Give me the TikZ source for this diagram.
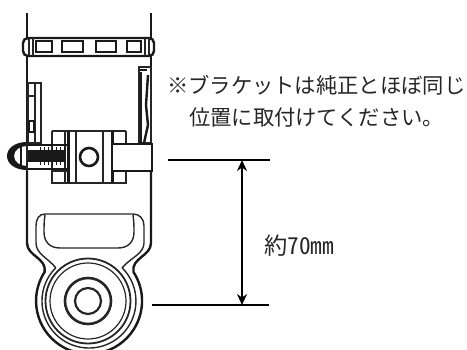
\documentclass[tikz,border=0pt]{standalone}
\usepackage{fontspec}
\usetikzlibrary{arrows.meta}
\newfontfamily\jpfont[RawFeature=+hwid]{Noto Sans CJK JP}
\newfontfamily\jpfull{Noto Sans CJK JP}
\tikzset{
	part/.style={line width=1.4pt,black!85},
	heavy/.style={line width=2.4pt,black!90},
	dimline/.style={line width=2pt},
	note/.style={font=\jpfull\fontsize{21.3pt}{24pt}\selectfont,anchor=west,inner sep=0pt,text=black!85},
}
\begin{document}
\begin{tikzpicture}[>={Stealth[length=11pt,width=10pt]},x=1pt,y=-1pt]
	\useasboundingbox (0,0) rectangle (467,349);
	\begin{scope}
	\clip (0,0) rectangle (467,349);
	%tube
	\draw[heavy] (27,13)--(27,38);
	\draw[heavy] (151,13)--(151,38);
	\draw[heavy] (27,56)--(27,145);
	\draw[heavy] (151,56)--(151,145);
	%ring
	\draw[heavy,rounded corners=5] (23,38) rectangle (154,56);
	\foreach \a/\b in {36/52,62/83,96/116,127/141}
		\draw[heavy] (\a,41) rectangle (\b,52);
	\draw[part] (29,38)--(29,56);
	\draw[part] (33,38)--(33,56);
	\draw[part] (145,38)--(145,56);
	\draw[part] (149,38)--(149,56);
	%brackets
	\draw[part] (28,83) rectangle (41,143);
	\draw[part] (35,83)--(35,143);
	\draw[part] (28,96)--(35,96);
	\draw[heavy] (29,121) rectangle (34,132);
	\draw[part] (139,67) rectangle (151,143);
	\draw[heavy] (140,70)--(147,70);
	\draw[heavy] (141,72)--(141,143);
	\draw[heavy] (148,75)--(146,105)--(148,125)--(144,143);
	%clamp
	\draw[part] (52,131)--(126,131);
	\draw[part] (52,131)--(52,183)--(126,183)--(126,131);
	\draw[part] (65,131)--(65,183);
	\draw[line width=3pt,black!90] (68,131)--(68,183);
	\draw[line width=3pt,black!90] (112,131)--(112,183);
	\draw[part] (76,131)--(76,183);
	\draw[part] (103,131)--(103,183);
	\draw[line width=2.6pt,black!90] (89,157) circle (9);
	\draw[part] (52,171)--(68,171);
	\draw[part] (112,171)--(126,171);
	%bolt
	\draw[heavy,fill=white] (112,144) rectangle (152,171);
	\draw[heavy] (27,145)--(67,145);
	\draw[heavy] (27,169)--(67,169);
	\fill[black!90] (28,150) rectangle (66,162);
	\foreach \x in {40,44,...,64}
		\draw[black!90,line width=.9pt] (\x,147)--(\x,165);
	\fill[black!90] (27,142) .. controls (14,142) and (7,149) .. (7,156) .. controls (7,163) and (14,170) .. (27,170)--(27,166) .. controls (20,166) and (14,162) .. (14,156) .. controls (14,150) and (20,146) .. (27,146)--cycle;
	\draw[heavy] (21,146)--(21,166);
	\draw[part] (27,143)--(27,171);
	%lower eye
	\draw[heavy] (27,171)--(27,243) .. controls (27,256) and (47,258) .. (44.6,272) arc[start angle=213,end angle=-33,radius=53] .. controls (131,258) and (151,256) .. (151,243)--(151,171);
	\draw[part] (55.8,267.8) .. controls (48,258) and (36,254) .. (36,243)--(36,226) .. controls (36,219) and (39,214) .. (45,214)--(133,214) .. controls (140,214) and (144,219) .. (144,226)--(144,243) .. controls (144,254) and (130,258) .. (122.2,267.8) arc[start angle=-45,end angle=225,radius=47];
	\draw[part] (45,215) .. controls (44,222) and (44,226) .. (44,232) .. controls (44,242) and (50,248) .. (60,248)--(118,248) .. controls (128,248) and (134,242) .. (134,232) .. controls (134,226) and (134,222) .. (133,215);
	\foreach \r/\w in {42.5/1.8pt,38/1.2pt,23/2.6pt,13/2.2pt}
		\draw[line width=\w,black!85] (88,301) circle (\r);
	\end{scope}
	%dimension
	\coordinate (topleft) at (168,160);
	\coordinate (topright) at (270,160);
	\coordinate (botleft) at (152,305);
	\coordinate (botright) at (269,305);
	\coordinate (arrowtop) at (242,160);
	\coordinate (arrowbot) at (242,305);
	\draw[dimline] (topleft)--(topright);
	\draw[dimline] (botleft)--(botright);
	\draw[dimline,<->] (arrowtop)--(arrowbot);
	\node[note] (noteone) at (167,85) {※ブラケットは純正とほぼ同じ};
	\node[note] (notetwo) at (189,117) {位置に取付けてください。};
	\node[note,font=\jpfont\fontsize{23.3pt}{24pt}\selectfont] (length) at (264,246) {約70mm};
\end{tikzpicture}
\end{document}
